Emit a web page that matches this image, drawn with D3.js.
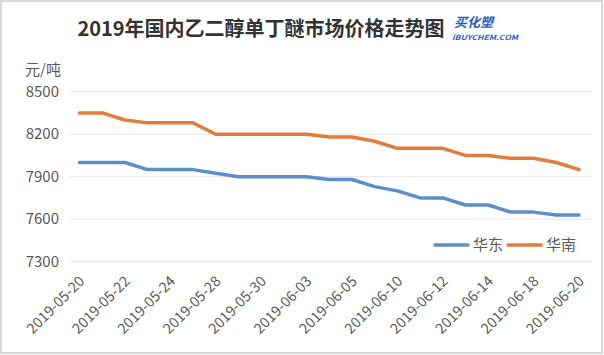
<!DOCTYPE html>
<html><head><meta charset="utf-8">
<script src="https://cdn.jsdelivr.net/npm/d3@7"></script>
<style>body{margin:0;background:#fff}svg{display:block}</style>
</head><body>
<script>
const dates = ["2019-05-20","2019-05-21","2019-05-22","2019-05-23","2019-05-24","2019-05-27","2019-05-28","2019-05-29","2019-05-30","2019-05-31","2019-06-03","2019-06-04","2019-06-05","2019-06-06","2019-06-10","2019-06-11","2019-06-12","2019-06-13","2019-06-14","2019-06-17","2019-06-18","2019-06-19","2019-06-20"];
const eastValues = [8000,8000,8000,7950,7950,7950,7925,7900,7900,7900,7900,7880,7880,7830,7800,7750,7750,7700,7700,7650,7650,7630,7630];
const southValues = [8350,8350,8300,8280,8280,8280,8200,8200,8200,8200,8200,8180,8180,8150,8100,8100,8100,8050,8050,8030,8030,8000,7950];
const yTicks = [7300,7600,7900,8200,8500];
const seriesNames = ["华东","华南"];
const colors = ["#5b8fc9","#e07d3a"];

const W=604,H=355;
const svg=d3.select("body").append("svg").attr("width",W).attr("height",H);
svg.append("rect").attr("x",1).attr("y",1).attr("width",W-3).attr("height",H-3).attr("fill","#fff").attr("stroke","#d9d9d9").attr("stroke-width",2);

const font="'Noto Sans CJK SC','Noto Sans',sans-serif";
const plotL=70, plotR=592;
const x=d3.scalePoint().domain(dates).range([79.5,579]);
const y=d3.scaleLinear().domain([7300,8500]).range([261.7,91.7]);

svg.append("g").selectAll("line").data(yTicks).join("line")
 .attr("x1",plotL).attr("x2",plotR).attr("y1",d=>y(d)).attr("y2",d=>y(d))
 .attr("stroke","#e6e6e6").attr("stroke-width",1);

svg.append("g").selectAll("text").data(yTicks).join("text")
 .attr("x",59).attr("y",d=>y(d)).attr("dy","0.35em").attr("text-anchor","end")
 .attr("font-family",font).attr("font-size",15).attr("fill","#595959").text(d=>d);

svg.append("text").attr("x",25).attr("y",75).attr("font-family",font).attr("font-size",15).attr("fill","#595959").text("元/吨");

const xLabels = dates.filter((d,i)=>i%2===0);
svg.append("g").selectAll("text").data(xLabels).join("text")
 .attr("transform",d=>`translate(${x(d)+6},${282}) rotate(-45)`)
 .attr("text-anchor","end").attr("font-family",font).attr("font-size",14.5).attr("fill","#595959").text(d=>d);

const line=d3.line().x((d,i)=>x(dates[i])).y(d=>y(d));
[eastValues,southValues].forEach((vals,k)=>{
  svg.append("path").datum(vals).attr("d",line).attr("fill","none")
   .attr("stroke",colors[k]).attr("stroke-width",3.5).attr("stroke-linejoin","round").attr("stroke-linecap","round");
});

const lg=[{x:435,t:473},{x:508,t:546}];
seriesNames.forEach((n,k)=>{
  svg.append("line").attr("x1",lg[k].x).attr("x2",lg[k].x+33).attr("y1",245).attr("y2",245)
   .attr("stroke",colors[k]).attr("stroke-width",3.5).attr("stroke-linecap","round");
  svg.append("text").attr("x",lg[k].t).attr("y",245).attr("dy","0.35em").attr("font-family",font)
   .attr("font-size",15).attr("fill","#595959").text(n);
});

svg.append("text").attr("x",261).attr("y",36).attr("text-anchor","middle").attr("font-family",font)
 .attr("font-size",20).attr("font-weight","bold").attr("fill","#333").text("2019年国内乙二醇单丁醚市场价格走势图");
svg.append("text").attr("x",454).attr("y",27).attr("font-family",font)
 .attr("font-size",13).attr("font-weight","bold").attr("font-style","italic").attr("fill","#1f5fbf").text("买化塑");
svg.append("text").attr("x",452).attr("y",39.5).attr("font-family",font).attr("textLength",66).attr("lengthAdjust","spacingAndGlyphs")
 .attr("font-size",7).attr("font-weight","bold").attr("font-style","italic").attr("fill","#1f5fbf").text("iBUYCHEM.COM");
</script>
</body></html>
